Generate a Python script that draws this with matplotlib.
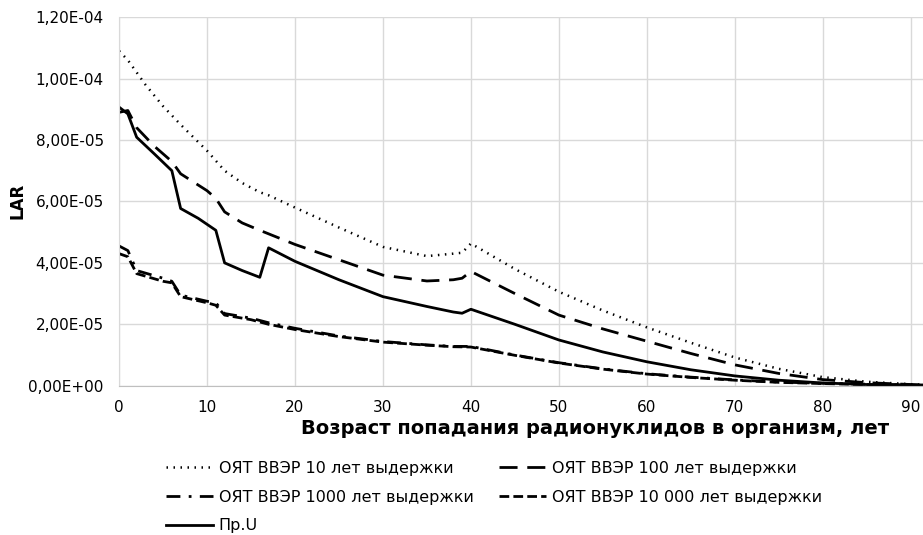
import matplotlib.pyplot as plt
from matplotlib.ticker import FuncFormatter

plt.rcParams['font.family'] = ['DejaVu Sans']

## DATA
age_10 = [0, 1, 2, 3, 5, 7, 10, 12, 14, 16, 17, 20, 25, 30, 35, 38, 39, 40, 45, 50, 55, 60, 65, 70, 75, 80, 85, 90, 92]
lar_10 = [10.9, 10.6, 10.2, 9.8, 9.1, 8.5, 7.65, 7.0, 6.6, 6.3, 6.2, 5.8, 5.15, 4.52, 4.22, 4.3, 4.33, 4.63, 3.8, 3.06,
          2.45, 1.9, 1.4, 0.92, 0.55, 0.28, 0.13, 0.05, 0.03]

age_100 = [0, 1, 2, 4, 6, 7, 10, 11, 12, 14, 16, 20, 25, 30, 35, 38, 39, 40, 45, 50, 55, 60, 65, 70, 75, 80, 85, 90, 92]
lar_100 = [8.9, 8.96, 8.4, 7.8, 7.3, 6.9, 6.35, 6.1, 5.66, 5.3, 5.06, 4.6, 4.1, 3.6, 3.41, 3.45, 3.5, 3.72, 3.0, 2.3,
           1.85, 1.45, 1.05, 0.68, 0.4, 0.2, 0.1, 0.04, 0.02]

age_1000 = [0, 1, 2, 5, 6, 7, 10, 11, 12, 15, 17, 20, 25, 30, 35, 38, 40, 45, 50, 55, 60, 65, 70, 75, 80, 85, 90, 92]
lar_1000 = [4.55, 4.4, 3.75, 3.5, 3.4, 2.95, 2.75, 2.7, 2.35, 2.2, 2.05, 1.87, 1.62, 1.44, 1.33, 1.28, 1.28, 1.0, 0.75,
            0.55, 0.39, 0.28, 0.19, 0.12, 0.08, 0.05, 0.03, 0.02]

age_10000 = [0, 1, 2, 5, 6, 7, 10, 11, 12, 15, 17, 20, 25, 30, 35, 38, 40, 45, 50, 55, 60, 65, 70, 75, 80, 85, 90, 92]
lar_10000 = [4.3, 4.2, 3.65, 3.4, 3.35, 2.9, 2.7, 2.62, 2.3, 2.15, 2.0, 1.83, 1.6, 1.42, 1.32, 1.27, 1.26, 0.99, 0.74,
             0.54, 0.38, 0.27, 0.18, 0.11, 0.07, 0.04, 0.02, 0.01]

age_u = [0, 1, 2, 4, 6, 7, 9, 11, 12, 14, 16, 17, 20, 25, 30, 35, 38, 39, 40, 45, 50, 55, 60, 65, 70, 75, 80, 85, 90, 92]
lar_u = [9.07, 8.85, 8.09, 7.55, 7.0, 5.77, 5.45, 5.06, 4.0, 3.75, 3.53, 4.49, 4.05, 3.45, 2.9, 2.58, 2.4, 2.36, 2.49,
         2.0, 1.49, 1.1, 0.78, 0.52, 0.32, 0.18, 0.09, 0.04, 0.02, 0.01]

names = ["ОЯТ ВВЭР 10 лет выдержки", "ОЯТ ВВЭР 100 лет выдержки", "ОЯТ ВВЭР 1000 лет выдержки",
         "ОЯТ ВВЭР 10 000 лет выдержки", "Пр.U"]

x_ticks = list(range(0, 91, 10))
y_ticks = [0, 2e-5, 4e-5, 6e-5, 8e-5, 1e-4, 1.2e-4]

scale = 1e-5

fig = plt.figure(figsize=(9.23, 5.35), dpi=100)
ax = fig.add_axes([0.129, 0.279, 0.871, 0.689])

l10, = ax.plot(age_10, [v * scale for v in lar_10], color="black", lw=1.8, linestyle=(0, (0.6, 2.2)))
l100, = ax.plot(age_100, [v * scale for v in lar_100], color="black", lw=2, linestyle=(0, (6.5, 3.5)))
l1000, = ax.plot(age_1000, [v * scale for v in lar_1000], color="black", lw=2, linestyle=(0, (5, 3, 1, 3)))
l10000, = ax.plot(age_10000, [v * scale for v in lar_10000], color="black", lw=2, linestyle=(0, (3.5, 1.5)))
lu, = ax.plot(age_u, [v * scale for v in lar_u], color="black", lw=2, linestyle="-")

ax.set_xlim(0, 91.4)
ax.set_ylim(0, 1.2e-4)
ax.set_xticks(x_ticks)
ax.set_yticks(y_ticks)
ax.yaxis.set_major_formatter(FuncFormatter(lambda v, p: f"{v:.2E}".replace(".", ",")))
ax.tick_params(axis="y", length=0, labelsize=11, pad=11)
ax.tick_params(axis="x", length=0, labelsize=11, pad=10)
ax.grid(True, color="#d9d9d9", lw=1)
ax.set_axisbelow(True)
for s in ["top", "right"]:
    ax.spines[s].set_visible(False)
ax.spines["left"].set_color("#d9d9d9")
ax.spines["bottom"].set_color("#bfbfbf")

# axis titles
fig.text(595 / 923, 1 - 429 / 535, "Возраст попадания радионуклидов в организм, лет", fontsize=14,
         fontweight="bold", ha="center", va="center")
fig.text(18 / 923, 1 - 201 / 535, "LAR", fontsize=12, fontweight="bold", rotation=90, ha="center", va="center")

handles = [l10, l1000, lu, l100, l10000]
labels = [names[0], names[2], names[4], names[1], names[3]]
fig.legend(handles, labels, ncol=2, loc="upper left", bbox_to_anchor=(166 / 923, 1 - 461 / 535), frameon=False,
           fontsize=11.5, handlelength=2.95, handletextpad=0.35, columnspacing=1.6, labelspacing=0.85,
           borderpad=0, borderaxespad=0)

fig.savefig("out.png", dpi=100)
